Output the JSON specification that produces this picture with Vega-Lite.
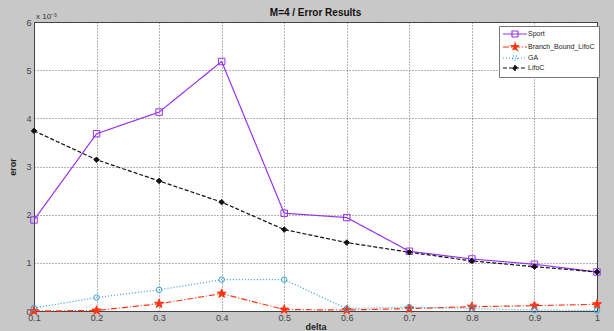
{
  "$schema": "https://vega.github.io/schema/vega-lite/v6.json",
  "width": 563,
  "height": 289,
  "autosize": "none",
  "padding": {"left": 34, "top": 22, "right": 17, "bottom": 20},
  "background": "#c8c8c8",
  "config": {
    "font": "Liberation Sans",
    "view": {"fill": "white", "stroke": "#444", "strokeWidth": 1},
    "axis": {
      "grid": true,
      "gridDash": [1, 2],
      "gridColor": "#444",
      "gridOpacity": 0.8,
      "domain": false,
      "ticks": false,
      "labelFontSize": 9,
      "labelColor": "#444",
      "titleFontSize": 9,
      "titleFontWeight": "bold",
      "titleColor": "#222",
      "labelPadding": 2
    }
  },
  "title": {"text": "M=4 / Error Results", "fontSize": 10, "fontWeight": "bold", "color": "#111", "offset": 4, "dy": 9, "anchor": "middle"},
  "data": {
    "values": [
      {"delta": 0.1, "series": "Sport", "error": 1.89},
      {"delta": 0.2, "series": "Sport", "error": 3.68},
      {"delta": 0.3, "series": "Sport", "error": 4.13},
      {"delta": 0.4, "series": "Sport", "error": 5.18},
      {"delta": 0.5, "series": "Sport", "error": 2.03},
      {"delta": 0.6, "series": "Sport", "error": 1.94},
      {"delta": 0.7, "series": "Sport", "error": 1.24},
      {"delta": 0.8, "series": "Sport", "error": 1.08},
      {"delta": 0.9, "series": "Sport", "error": 0.97},
      {"delta": 1.0, "series": "Sport", "error": 0.81},
      {"delta": 0.1, "series": "Branch_Bound_LifoC", "error": 0.0},
      {"delta": 0.2, "series": "Branch_Bound_LifoC", "error": 0.01},
      {"delta": 0.3, "series": "Branch_Bound_LifoC", "error": 0.15},
      {"delta": 0.4, "series": "Branch_Bound_LifoC", "error": 0.36},
      {"delta": 0.5, "series": "Branch_Bound_LifoC", "error": 0.03},
      {"delta": 0.6, "series": "Branch_Bound_LifoC", "error": 0.02},
      {"delta": 0.7, "series": "Branch_Bound_LifoC", "error": 0.05},
      {"delta": 0.8, "series": "Branch_Bound_LifoC", "error": 0.09},
      {"delta": 0.9, "series": "Branch_Bound_LifoC", "error": 0.11},
      {"delta": 1.0, "series": "Branch_Bound_LifoC", "error": 0.14},
      {"delta": 0.1, "series": "GA", "error": 0.06},
      {"delta": 0.2, "series": "GA", "error": 0.28},
      {"delta": 0.3, "series": "GA", "error": 0.44},
      {"delta": 0.4, "series": "GA", "error": 0.65},
      {"delta": 0.5, "series": "GA", "error": 0.65},
      {"delta": 0.6, "series": "GA", "error": 0.05},
      {"delta": 0.7, "series": "GA", "error": 0.08},
      {"delta": 0.8, "series": "GA", "error": 0.05},
      {"delta": 0.9, "series": "GA", "error": 0.02},
      {"delta": 1.0, "series": "GA", "error": 0.01},
      {"delta": 0.1, "series": "LifoC", "error": 3.74},
      {"delta": 0.2, "series": "LifoC", "error": 3.14},
      {"delta": 0.3, "series": "LifoC", "error": 2.70},
      {"delta": 0.4, "series": "LifoC", "error": 2.26},
      {"delta": 0.5, "series": "LifoC", "error": 1.69},
      {"delta": 0.6, "series": "LifoC", "error": 1.42},
      {"delta": 0.7, "series": "LifoC", "error": 1.22},
      {"delta": 0.8, "series": "LifoC", "error": 1.04},
      {"delta": 0.9, "series": "LifoC", "error": 0.92},
      {"delta": 1.0, "series": "LifoC", "error": 0.81}
    ]
  },
  "layer": [
    {
      "mark": {"type": "line", "strokeWidth": 1.2},
      "encoding": {
        "x": {
          "field": "delta", "type": "quantitative",
          "scale": {"domain": [0.1, 1], "nice": false, "zero": false},
          "axis": {"values": [0.1, 0.2, 0.3, 0.4, 0.5, 0.6, 0.7, 0.8, 0.9, 1], "format": ".1~f", "title": "delta", "titlePadding": 0, "labelFlush": false}
        },
        "y": {
          "field": "error", "type": "quantitative",
          "scale": {"domain": [0, 6], "nice": false},
          "axis": {"values": [0, 1, 2, 3, 4, 5, 6], "title": "eror", "titlePadding": 8, "labelPadding": 3}
        },
        "color": {
          "field": "series", "type": "nominal",
          "scale": {"domain": ["Sport", "Branch_Bound_LifoC", "GA", "LifoC"], "range": ["#9933ee", "#ff3311", "#33a0d8", "#111111"]},
          "legend": {
            "orient": "none", "legendX": 465, "legendY": 4, "title": null,
            "fillColor": "white", "strokeColor": "#777", "padding": 4,
            "labelFontSize": 7, "labelColor": "#222", "rowPadding": 0,
            "symbolSize": 64, "symbolStrokeWidth": 1.2, "symbolOffset": 8, "labelOffset": 9,
            "encode": {
              "symbols": {
                "update": {
                  "size": {"value": 36},
                  "strokeWidth": {"value": 1.2},
                  "shape": {"signal": "datum.value === 'Sport' ? 'M-4,0L4,0M-1,-1L1,-1L1,1L-1,1Z' : datum.value === 'GA' ? 'M-4,0L4,0M0.8,0A0.8,0.8,0,1,1,-0.8,0A0.8,0.8,0,1,1,0.8,0Z' : datum.value === 'LifoC' ? 'M-4,0L4,0M0,-0.8L0.8,0L0,0.8L-0.8,0Z' : 'M-4,0L4,0M0,-1.4L0.328,-0.452L1.332,-0.432L0.532,0.172L0.824,1.132L0,0.56L-0.824,1.132L-0.532,0.172L-1.332,-0.432L-0.328,-0.452Z'"},
                  "strokeDash": {"signal": "datum.value === 'Branch_Bound_LifoC' ? [6,2,1,2] : datum.value === 'GA' ? [1,2] : datum.value === 'LifoC' ? [4,2] : [1,0]"},
                  "fill": {"signal": "datum.value === 'LifoC' ? '#111111' : datum.value === 'Branch_Bound_LifoC' ? '#ff3311' : 'transparent'"}
                }
              }
            }
          }
        },
        "strokeDash": {
          "field": "series", "type": "nominal",
          "scale": {"domain": ["Sport", "Branch_Bound_LifoC", "GA", "LifoC"], "range": [[1, 0], [6, 2, 1, 2], [1, 2], [4, 2]]},
          "legend": null
        }
      }
    },
    {
      "mark": {"type": "point", "strokeWidth": 1, "opacity": 1},
      "encoding": {
        "x": {"field": "delta", "type": "quantitative"},
        "y": {"field": "error", "type": "quantitative"},
        "shape": {
          "condition": [
            {"test": "datum.series === 'Sport'", "value": "square"},
            {"test": "datum.series === 'GA'", "value": "circle"},
            {"test": "datum.series === 'LifoC'", "value": "diamond"}
          ],
          "value": "M0,-1L0.235,-0.324L0.951,-0.309L0.38,0.124L0.588,0.809L0,0.4L-0.588,0.809L-0.38,0.124L-0.951,-0.309L-0.235,-0.324Z"
        },
        "stroke": {
          "condition": [
            {"test": "datum.series === 'Sport'", "value": "#9933ee"},
            {"test": "datum.series === 'GA'", "value": "#33a0d8"},
            {"test": "datum.series === 'LifoC'", "value": "#111111"}
          ],
          "value": "#ff3311"
        },
        "fill": {
          "condition": [
            {"test": "datum.series === 'Sport'", "value": "transparent"},
            {"test": "datum.series === 'GA'", "value": "transparent"},
            {"test": "datum.series === 'LifoC'", "value": "#111111"}
          ],
          "value": "#ff3311"
        },
        "size": {
          "condition": [
            {"test": "datum.series === 'Sport'", "value": 42},
            {"test": "datum.series === 'GA'", "value": 30},
            {"test": "datum.series === 'LifoC'", "value": 30}
          ],
          "value": 90
        }
      }
    },
    {
      "data": {"values": [{"label": "x 10⁻³"}]},
      "mark": {"type": "text", "align": "left", "baseline": "bottom", "dx": 2, "dy": -1, "fontSize": 8, "color": "#333"},
      "encoding": {
        "x": {"datum": 0.1},
        "y": {"datum": 6},
        "text": {"field": "label"}
      }
    }
  ]
}
